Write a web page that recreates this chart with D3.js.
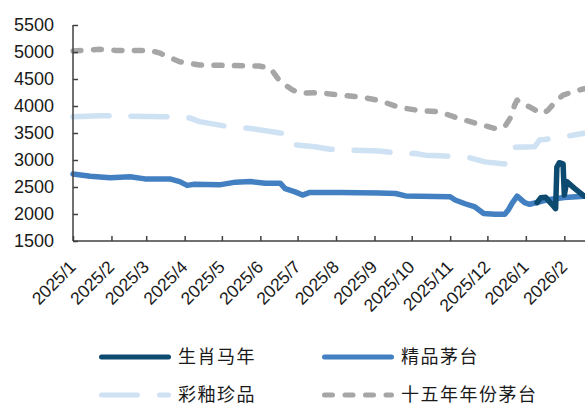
<!DOCTYPE html>
<html>
<head>
<meta charset="utf-8">
<script src="https://cdn.jsdelivr.net/npm/d3@7"></script>
<style>
  body { margin: 0; background: #fff; }
  svg { display: block; }
</style>
</head>
<body>
<svg width="585" height="405"></svg>
<script>
// series data
var seriesNames = ["生肖马年", "精品茅台", "彩釉珍品", "十五年年份茅台"];

var horseDates = ["2026-01-10", "2026-01-13", "2026-01-17", "2026-01-20", "2026-01-22", "2026-01-25",
  "2026-01-26", "2026-01-28", "2026-01-31", "2026-02-01", "2026-02-03", "2026-02-09", "2026-02-17"];
var horseValues = [2210, 2300, 2310, 2230, 2180, 2100, 2870, 2950, 2930, 2350, 2600, 2480, 2330];

var jingpinDates = ["2025-01-01", "2025-01-15", "2025-01-31", "2025-02-16", "2025-02-28", "2025-03-20",
  "2025-03-28", "2025-04-03", "2025-04-09", "2025-04-29", "2025-05-12", "2025-05-24", "2025-06-05",
  "2025-06-17", "2025-06-21", "2025-06-29", "2025-07-05", "2025-07-11", "2025-08-04", "2025-09-05",
  "2025-09-18", "2025-09-26", "2025-11-01", "2025-11-05", "2025-11-13", "2025-11-21", "2025-11-28",
  "2025-12-07", "2025-12-15", "2025-12-18", "2025-12-21", "2025-12-25", "2025-12-31", "2026-01-04",
  "2026-01-12", "2026-01-20", "2026-02-01", "2026-02-17"];
var jingpinValues = [2740, 2700, 2670, 2690, 2650, 2650, 2600, 2530, 2550, 2540, 2590, 2600, 2570,
  2570, 2470, 2410, 2350, 2400, 2400, 2390, 2380, 2335, 2320, 2260, 2190, 2130, 2010,
  1995, 1995, 2080, 2200, 2330, 2210, 2180, 2225, 2270, 2305, 2330];

var caiyouDates = ["2025-01-01", "2025-01-23", "2025-03-20", "2025-04-05", "2025-04-13", "2025-05-03",
  "2025-05-24", "2025-06-17", "2025-06-26", "2025-06-30", "2025-07-15", "2025-07-27", "2025-08-16",
  "2025-09-05", "2025-09-16", "2025-10-04", "2025-10-12", "2025-10-28", "2025-11-17", "2025-11-29",
  "2025-12-15", "2025-12-20", "2026-01-08", "2026-01-12", "2026-01-16", "2026-02-01", "2026-02-17"];
var caiyouValues = [3800, 3820, 3800, 3780, 3710, 3630, 3585, 3500, 3480, 3280, 3245, 3200, 3180,
  3165, 3135, 3120, 3090, 3075, 3040, 2965, 2925, 3235, 3245, 3370, 3380, 3430, 3495];

var fifteenDates = ["2025-01-01", "2025-01-23", "2025-02-04", "2025-03-04", "2025-03-12", "2025-03-28",
  "2025-04-13", "2025-05-31", "2025-06-09", "2025-06-17", "2025-06-27", "2025-07-03", "2025-07-19",
  "2025-08-04", "2025-08-20", "2025-09-05", "2025-09-21", "2025-10-07", "2025-10-23", "2025-11-08",
  "2025-11-24", "2025-12-07", "2025-12-15", "2025-12-20", "2025-12-23", "2025-12-25", "2025-12-27",
  "2026-01-04", "2026-01-11", "2026-01-15", "2026-01-19", "2026-01-26", "2026-01-31", "2026-02-08",
  "2026-02-17"];
var fifteenValues = [5020, 5050, 5030, 5030, 4980, 4820, 4760, 4740, 4700, 4450, 4295, 4240, 4245,
  4200, 4170, 4100, 3975, 3915, 3895, 3770, 3665, 3585, 3615, 3800, 4020, 4110, 4050,
  3985, 3890, 3860, 3925, 4110, 4200, 4265, 4320];

var yTicks = [1500, 2000, 2500, 3000, 3500, 4000, 4500, 5000, 5500];

var svg = d3.select("svg");
var parse = d3.timeParse("%Y-%m-%d");

var series = [
  { name: seriesNames[2], dates: caiyouDates, values: caiyouValues, color: "#cfe2f3", dash: "36,22" },
  { name: seriesNames[3], dates: fifteenDates, values: fifteenValues, color: "#a6a6a6", dash: "8,12.5" },
  { name: seriesNames[1], dates: jingpinDates, values: jingpinValues, color: "#4280c1", dash: null },
  { name: seriesNames[0], dates: horseDates, values: horseValues, color: "#0d4a70", dash: null }
];

var x = d3.scaleTime()
  .domain([parse("2025-01-01"), parse("2026-02-28")])
  .range([73, 73 + 423 * 1.2407]);
var y = d3.scaleLinear().domain([1500, 5500]).range([241, 25]);

var line = d3.line()
  .x(d => x(d[0]))
  .y(d => y(d[1]));

// lines
svg.append("g")
  .selectAll("path")
  .data(series)
  .enter()
  .append("path")
  .attr("d", s => line(s.dates.map((d, i) => [parse(d), s.values[i]])))
  .attr("fill", "none")
  .attr("stroke", s => s.color)
  .attr("stroke-width", 5.5)
  .attr("stroke-linejoin", "round")
  .attr("stroke-linecap", "round")
  .attr("stroke-dasharray", s => s.dash);

// y axis
var yAxis = svg.append("g")
  .attr("transform", "translate(73,0)")
  .call(d3.axisRight(y).tickValues(yTicks).tickSize(5).tickFormat(""));
yAxis.select(".domain").attr("stroke", "#404040").attr("stroke-width", 1.5)
  .attr("d", "M0," + y(5500) + "V" + y(1500));
yAxis.selectAll(".tick line").attr("stroke", "#404040").attr("stroke-width", 1.5);

svg.append("g")
  .selectAll("text")
  .data(yTicks)
  .enter()
  .append("text")
  .attr("x", 54)
  .attr("y", d => y(d))
  .attr("dy", "0.36em")
  .attr("text-anchor", "end")
  .attr("font-family", "Liberation Sans, Arial, sans-serif")
  .attr("font-size", 18)
  .attr("fill", "#1a1a1a")
  .text(d => d);

// x axis
var monthTicks = d3.timeMonth.range(parse("2025-01-01"), parse("2026-02-02"));
var xAxis = svg.append("g")
  .attr("transform", "translate(0,241)")
  .call(d3.axisTop(x).tickValues(monthTicks).tickSize(5).tickFormat(""));
xAxis.select(".domain").attr("stroke", "#404040").attr("stroke-width", 1.5)
  .attr("d", "M73,0H585");
xAxis.selectAll(".tick line").attr("stroke", "#404040").attr("stroke-width", 1.5);

var fmt = d3.timeFormat("%Y/%-m");
svg.append("g")
  .selectAll("text")
  .data(monthTicks)
  .enter()
  .append("text")
  .attr("transform", d => "translate(" + (x(d) + 4) + ",268) rotate(-45)")
  .attr("text-anchor", "end")
  .attr("font-family", "Liberation Sans, Arial, sans-serif")
  .attr("font-size", 17.5)
  .attr("fill", "#1a1a1a")
  .text(d => fmt(d));

// legend
var legendPos = [
  { s: series[3], lx: 99, ly: 357 },
  { s: series[2], lx: 322, ly: 357 },
  { s: series[0], lx: 99, ly: 395 },
  { s: series[1], lx: 322, ly: 395 }
];
var legend = svg.append("g")
  .selectAll("g")
  .data(legendPos)
  .enter()
  .append("g");

legend.append("line")
  .attr("x1", d => d.lx + 2.5)
  .attr("x2", d => d.lx + 69.5)
  .attr("y1", d => d.ly)
  .attr("y2", d => d.ly)
  .attr("stroke", d => d.s.color)
  .attr("stroke-width", 5)
  .attr("stroke-linecap", "round")
  .attr("stroke-dasharray", d => d.s.dash);

legend.append("text")
  .attr("x", d => d.lx + 79)
  .attr("y", d => d.ly)
  .attr("dy", "0.36em")
  .attr("font-family", "Noto Sans CJK SC, sans-serif")
  .attr("font-size", 18)
  .attr("letter-spacing", 1.5)
  .attr("fill", "#1a1a1a")
  .text(d => d.s.name);
</script>
</body>
</html>
